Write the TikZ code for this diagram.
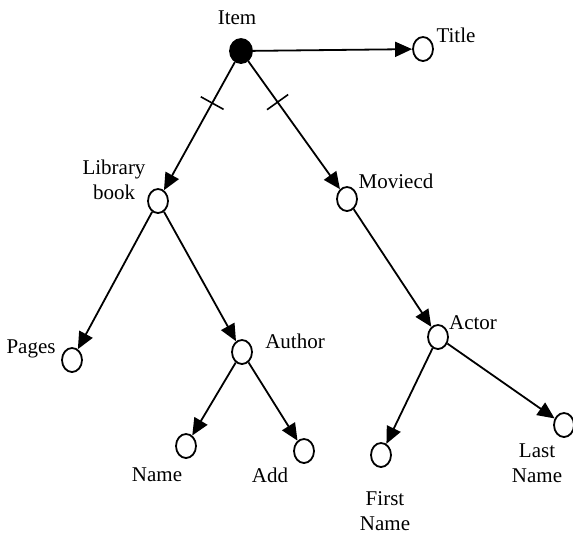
\documentclass[tikz,border=0pt]{standalone}
\usepackage{fontspec}
\setmainfont{Liberation Serif}
\usetikzlibrary{positioning, arrows.meta, shapes.geometric, decorations.markings}

\tikzset{
  attr/.style={draw, ellipse, line width=0.9pt, minimum width=10pt, minimum height=12pt, inner sep=0pt},
  root/.style={attr, fill=black, minimum width=11pt},
  lbl/.style={font=\fontsize{10.5}{12.5}\selectfont, align=center, inner sep=0pt},
  arr/.style={-{Triangle[length=8.5pt,width=7.5pt]}, line width=0.9pt},
  bar/.style={postaction={decorate, decoration={markings,
      mark=at position #1 with {\draw[-, line width=0.8pt] (0,-6.5pt) -- (0,6.5pt);}}}},
}

\begin{document}
\begin{tikzpicture}[x=0.5pt, y=-0.5pt]
  \useasboundingbox (0,0) rectangle (573,532);

  % entity nodes
  \node[root] (item)  at (241, 51)  {};
  \node[attr] (title) at (423, 49)  {};
  \node[attr] (lib)   at (158, 201) {};
  \node[attr] (movie) at (347, 199) {};
  \node[attr] (pages) at (72, 360)  {};
  \node[attr] (auth)  at (242, 352) {};
  \node[attr] (actor) at (438, 337) {};
  \node[attr] (name)  at (186, 446) {};
  \node[attr] (add)   at (304, 451) {};
  \node[attr] (first) at (381, 455) {};
  \node[attr] (last)  at (564, 425) {};

  % labels
  \node[lbl] (item-l)  at (237, 18)  {Item};
  \node[lbl] (title-l) at (456, 35)  {Title};
  \node[lbl] (lib-l)   at (114, 180) {Library\\book};
  \node[lbl] (movie-l) at (396, 181) {Moviecd};
  \node[lbl] (pages-l) at (31, 349)  {Pages};
  \node[lbl] (auth-l)  at (295, 341) {Author};
  \node[lbl] (actor-l) at (473, 323) {Actor};
  \node[lbl] (name-l)  at (157, 475) {Name};
  \node[lbl] (add-l)   at (270, 475) {Add};
  \node[lbl] (first-l) at (385, 511) {First\\Name};
  \node[lbl] (last-l)  at (537, 463) {Last\\Name};

  % links
  \draw[arr] (item) -- (title);
  \draw[arr, bar=0.32] (item) -- (lib);
  \draw[arr, bar=0.32] (item) -- (movie);
  \draw[arr] (lib) -- (pages);
  \draw[arr] (lib) -- (auth);
  \draw[arr] (auth) -- (name);
  \draw[arr] (auth) -- (add);
  \draw[arr] (movie) -- (actor);
  \draw[arr] (actor) -- (first);
  \draw[arr] (actor) -- (last);
\end{tikzpicture}
\end{document}
